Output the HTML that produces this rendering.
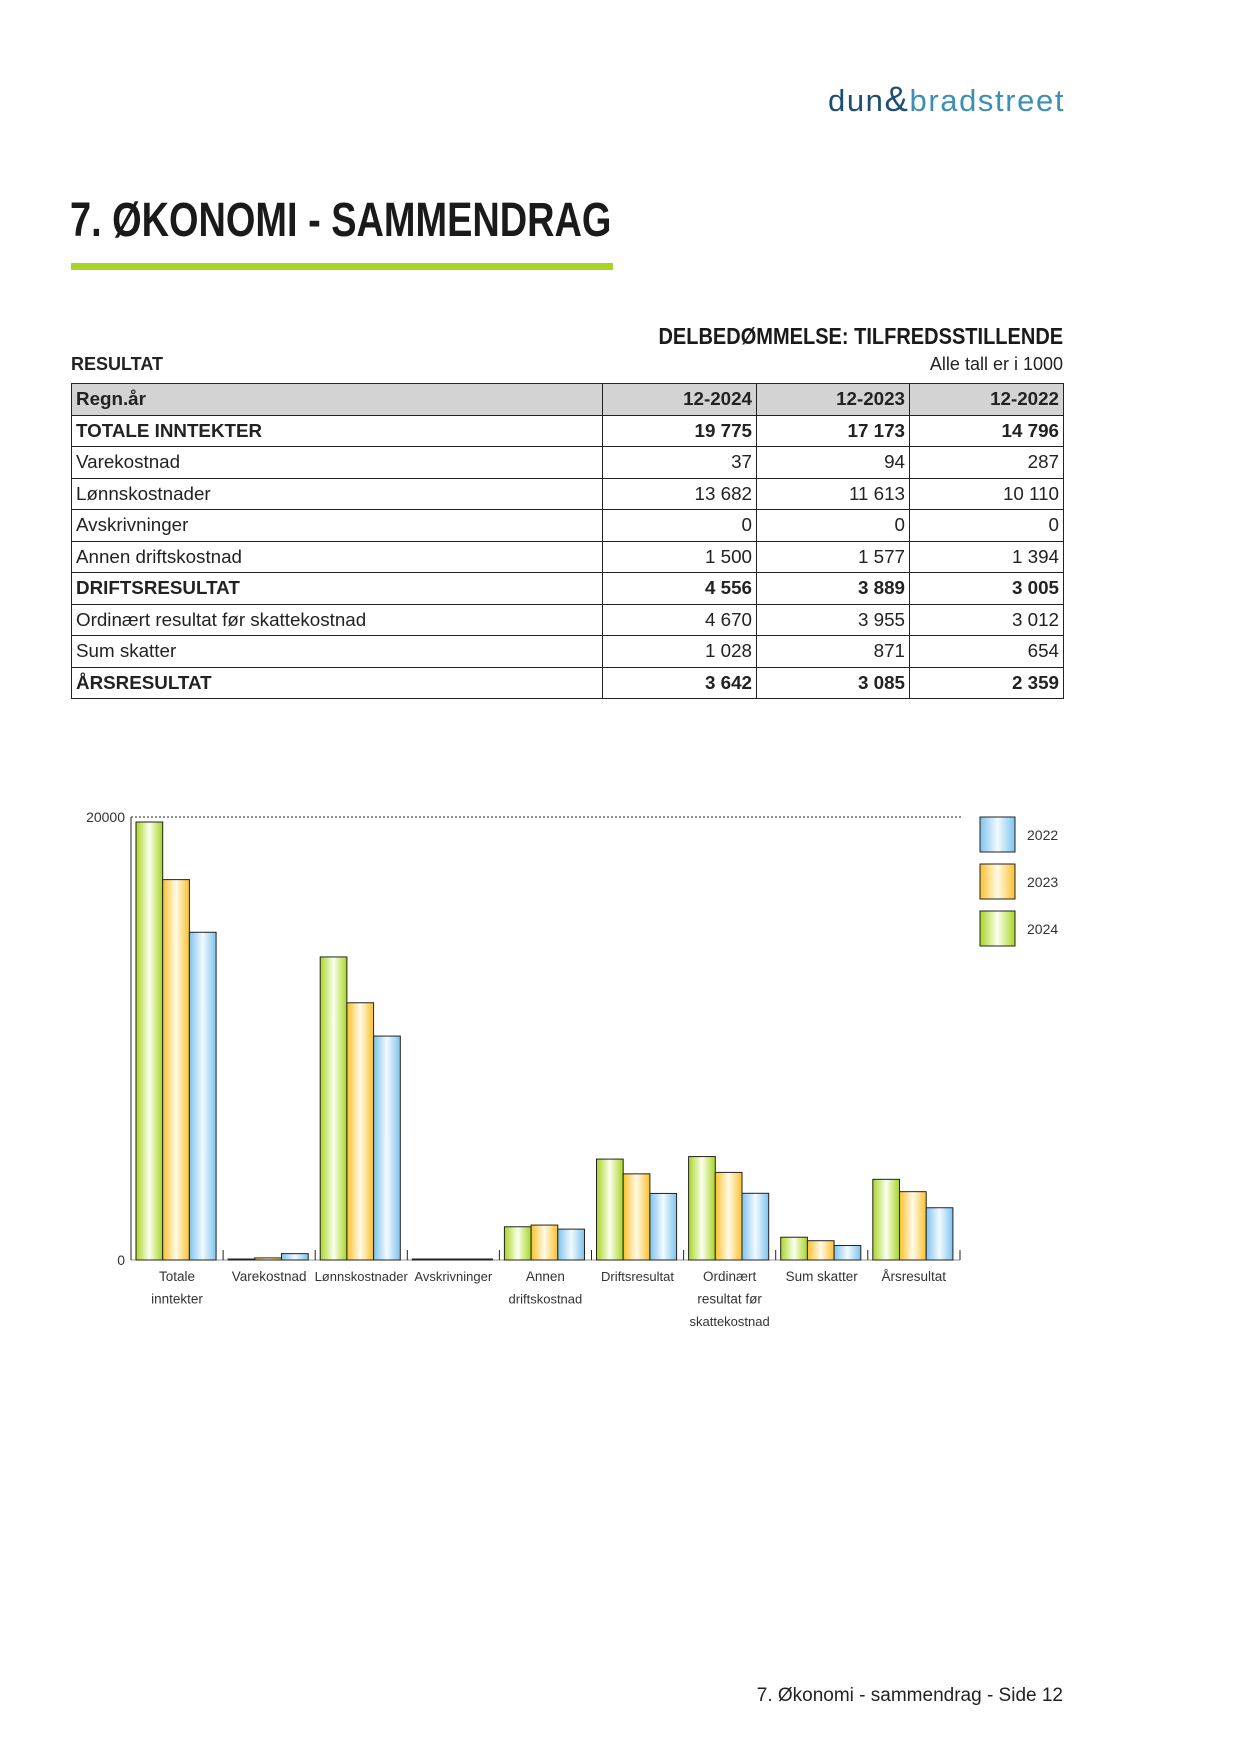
<!DOCTYPE html>
<html><head><meta charset="utf-8"><style>
html,body{margin:0;padding:0}
body{width:1241px;height:1754px;background:#fff;position:relative;font-family:"Liberation Sans",sans-serif;color:#222;overflow:hidden}
.a{position:absolute}
.cond{font-family:"Liberation Sans Narrow","Liberation Sans",sans-serif;font-weight:bold}
table{position:absolute;left:71px;top:383px;width:992px;border-collapse:collapse;table-layout:fixed;font-size:18.8px}
td{border:1px solid #222;height:31.5px;padding:0 4px;box-sizing:border-box;white-space:nowrap}
td.n{text-align:right}
tr.h td{background:#d3d3d3;font-weight:bold}
tr.b td{font-weight:bold}
</style></head><body>
<div class="a" style="left:828px;top:80px;font-size:31px;line-height:40px;white-space:nowrap;letter-spacing:1.6px"><span style="color:#1d4f72">dun</span><span style="color:#1d4f72;font-size:35px">&amp;</span><span style="color:#3d8fb5">bradstreet</span></div>
<div class="a cond" style="left:70px;top:193px;font-size:48px;line-height:56px;color:#1a1a1a;transform:scaleX(0.79);transform-origin:left;white-space:nowrap">7. ØKONOMI - SAMMENDRAG</div>
<div class="a" style="left:71px;top:263px;width:542px;height:7px;background:#a8d523"></div>
<div class="a cond" style="left:71px;width:992px;text-align:right;top:322px;font-size:23px;line-height:28px;color:#1a1a1a"><span style="display:inline-block;transform:scaleX(0.87);transform-origin:right">DELBEDØMMELSE: TILFREDSSTILLENDE</span></div>
<div class="a" style="left:71px;top:354px;font-size:18px;font-weight:bold">RESULTAT</div>
<div class="a" style="left:71px;width:992px;text-align:right;top:354px;font-size:18px">Alle tall er i 1000</div>
<table>
<colgroup><col style="width:531px"><col style="width:154px"><col style="width:153px"><col style="width:154px"></colgroup>
<tr class="h"><td>Regn.år</td><td class="n">12-2024</td><td class="n">12-2023</td><td class="n">12-2022</td></tr>
<tr class="b"><td>TOTALE INNTEKTER</td><td class="n">19 775</td><td class="n">17 173</td><td class="n">14 796</td></tr>
<tr><td>Varekostnad</td><td class="n">37</td><td class="n">94</td><td class="n">287</td></tr>
<tr><td>Lønnskostnader</td><td class="n">13 682</td><td class="n">11 613</td><td class="n">10 110</td></tr>
<tr><td>Avskrivninger</td><td class="n">0</td><td class="n">0</td><td class="n">0</td></tr>
<tr><td>Annen driftskostnad</td><td class="n">1 500</td><td class="n">1 577</td><td class="n">1 394</td></tr>
<tr class="b"><td>DRIFTSRESULTAT</td><td class="n">4 556</td><td class="n">3 889</td><td class="n">3 005</td></tr>
<tr><td>Ordinært resultat før skattekostnad</td><td class="n">4 670</td><td class="n">3 955</td><td class="n">3 012</td></tr>
<tr><td>Sum skatter</td><td class="n">1 028</td><td class="n">871</td><td class="n">654</td></tr>
<tr class="b"><td>ÅRSRESULTAT</td><td class="n">3 642</td><td class="n">3 085</td><td class="n">2 359</td></tr>
</table>
<svg class="a" style="left:0;top:0" width="1241" height="1754" font-family="Liberation Sans, sans-serif">
<defs>
<linearGradient id="g"><stop offset="0" stop-color="#a8d523"/><stop offset=".5" stop-color="#fbfff0"/><stop offset="1" stop-color="#a8d523"/></linearGradient>
<linearGradient id="o"><stop offset="0" stop-color="#fbc02d"/><stop offset=".5" stop-color="#fffbe8"/><stop offset="1" stop-color="#fbc02d"/></linearGradient>
<linearGradient id="b"><stop offset="0" stop-color="#7ec3ee"/><stop offset=".5" stop-color="#f2faff"/><stop offset="1" stop-color="#7ec3ee"/></linearGradient>
</defs>
<line x1="131" y1="817" x2="962" y2="817" stroke="#222" stroke-dasharray="2,2"/>
<line x1="131" y1="817" x2="131" y2="1260" stroke="#222"/>
<line x1="131" y1="1260" x2="960" y2="1260" stroke="#222" stroke-width=".6"/>
<text x="125" y="822" font-size="14" text-anchor="end" fill="#333">20000</text>
<text x="125" y="1265" font-size="14" text-anchor="end" fill="#333">0</text>
<g id="bars" stroke="#222" stroke-width="1"></g>
<g font-size="13.5" fill="#333" text-anchor="middle" id="lbl"></g>
<rect x="980" y="817" width="35" height="35" fill="url(#b)" stroke="#222"/>
<rect x="980" y="864" width="35" height="35" fill="url(#o)" stroke="#222"/>
<rect x="980" y="911" width="35" height="35" fill="url(#g)" stroke="#222"/>
<text x="1027" y="840" font-size="14" fill="#333">2022</text>
<text x="1027" y="887" font-size="14" fill="#333">2023</text>
<text x="1027" y="934" font-size="14" fill="#333">2024</text>
<g id="dv" stroke="#222"></g>
<text x="1063" y="1701" font-size="19" text-anchor="end" fill="#222">7. Økonomi - sammendrag - Side 12</text>
</svg>
<script>
var d=[[19775,17173,14796],[37,94,287],[13682,11613,10110],[0,0,0],[1500,1577,1394],[4556,3889,3005],[4670,3955,3012],[1028,871,654],[3642,3085,2359]];
var L=[["Totale","inntekter"],["Varekostnad"],["Lønnskostnader"],["Avskrivninger"],["Annen","driftskostnad"],["Driftsresultat"],["Ordinært","resultat før","skattekostnad"],["Sum skatter"],["Årsresultat"]];
var ns="http://www.w3.org/2000/svg",g=document.getElementById("bars"),lb=document.getElementById("lbl"),dv=document.getElementById("dv"),f=["url(#g)","url(#o)","url(#b)"];
for(var i=0;i<9;i++){var x0=131+i*92.1;
 if(i>0){var l=document.createElementNS(ns,"line");l.setAttribute("x1",x0);l.setAttribute("x2",x0);l.setAttribute("y1",1250);l.setAttribute("y2",1260);dv.appendChild(l);}
 for(var j=0;j<3;j++){var h=d[i][j]/20000*443;var r=document.createElementNS(ns,"rect");r.setAttribute("x",x0+5+j*26.7);r.setAttribute("width",26.7);r.setAttribute("y",1260-Math.max(h,1));r.setAttribute("height",Math.max(h,1));r.setAttribute("fill",f[j]);g.appendChild(r);}
 for(var k=0;k<L[i].length;k++){var t=document.createElementNS(ns,"text");t.setAttribute("x",x0+46);t.setAttribute("y",1281+k*22.5);if(L[i][k].length>12)t.setAttribute("font-size","13");t.textContent=L[i][k];lb.appendChild(t);}
}
var l=document.createElementNS(ns,"line");l.setAttribute("x1",960);l.setAttribute("x2",960);l.setAttribute("y1",1250);l.setAttribute("y2",1260);dv.appendChild(l);
</script>
</body></html>
